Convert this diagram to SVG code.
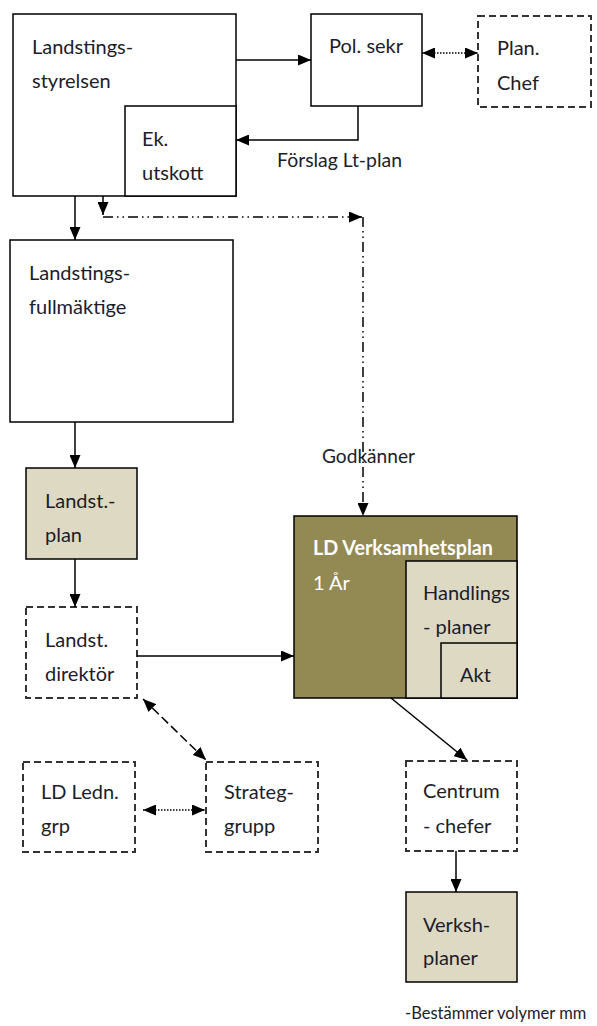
<svg xmlns="http://www.w3.org/2000/svg" width="597" height="1026" viewBox="0 0 597 1026">
<style>
.box{fill:#fff;stroke:#000;stroke-width:1.5}
.tan{fill:#ddd9c3;stroke:#000;stroke-width:1.5}
.olive{fill:#938953;stroke:#000;stroke-width:1.5}
.dash{fill:#fff;stroke:#333;stroke-width:2;stroke-dasharray:7 4}
.t{font-family:Lato,"Open Sans",sans-serif;font-size:20px;fill:#1c1c2a}
.w{fill:#fff}
.b{font-weight:bold}
.c{fill:none;stroke:#000;stroke-width:1.5}
.dot{stroke-dasharray:1.5 1.5}
.dd{stroke-dasharray:9 4}
.dadot{stroke-dasharray:10 4 1.5 4 1.5 4}
</style>
<defs>
<marker id="ah" markerUnits="userSpaceOnUse" markerWidth="13" markerHeight="11" refX="13" refY="5.5" orient="auto-start-reverse">
<path d="M0,0 L13,5.5 L0,11 z" fill="#000"/>
</marker>
</defs>
<g id="styrelsen">
<rect class="box" x="13" y="14" width="223" height="182"/>
<text class="t" x="32" y="54">Landstings-</text>
<text class="t" x="32" y="88">styrelsen</text>
</g>
<g id="ekutskott">
<rect class="box" x="125" y="106" width="111" height="90"/>
<text class="t" x="142" y="146">Ek.</text>
<text class="t" x="142" y="180">utskott</text>
</g>
<g id="polsekr">
<rect class="box" x="311" y="14" width="111" height="92"/>
<text class="t" x="329" y="53">Pol. sekr</text>
</g>
<g id="planchef">
<rect class="dash" x="478" y="16" width="113" height="91"/>
<text class="t" x="497" y="55">Plan.</text>
<text class="t" x="497" y="90">Chef</text>
</g>
<g id="fullmaktige">
<rect class="box" x="10" y="240" width="223" height="182"/>
<text class="t" x="29" y="280">Landstings-</text>
<text class="t" x="29" y="314">fullmäktige</text>
</g>
<g id="landstplan">
<rect class="tan" x="26" y="468" width="111" height="91"/>
<text class="t" x="45" y="508">Landst.-</text>
<text class="t" x="45" y="542">plan</text>
</g>
<g id="direktor">
<rect class="dash" x="26" y="607" width="111" height="91"/>
<text class="t" x="45" y="647">Landst.</text>
<text class="t" x="45" y="681">direktör</text>
</g>
<g id="verksamhetsplan">
<rect class="olive" x="294" y="516" width="223" height="182"/>
<text class="t w b" x="313" y="555" textLength="180" lengthAdjust="spacingAndGlyphs">LD Verksamhetsplan</text>
<text class="t w" x="313" y="590">1 År</text>
</g>
<g id="handlingsplaner">
<rect class="tan" x="406" y="561" width="111" height="137"/>
<text class="t" x="423" y="600">Handlings</text>
<text class="t" x="423" y="634">- planer</text>
</g>
<g id="akt">
<rect class="tan" x="441" y="643" width="76" height="55"/>
<text class="t" x="460" y="682">Akt</text>
</g>
<g id="ledngrp">
<rect class="dash" x="23" y="762" width="112" height="90"/>
<text class="t" x="41" y="799">LD Ledn.</text>
<text class="t" x="41" y="833">grp</text>
</g>
<g id="strateggrupp">
<rect class="dash" x="206" y="762" width="112" height="90"/>
<text class="t" x="224" y="799">Strateg-</text>
<text class="t" x="224" y="833">grupp</text>
</g>
<g id="centrumchefer">
<rect class="dash" x="406" y="761" width="111" height="90"/>
<text class="t" x="423" y="798">Centrum</text>
<text class="t" x="423" y="833">- chefer</text>
</g>
<g id="verkshplaner">
<rect class="tan" x="406" y="892" width="111" height="90"/>
<text class="t" x="423" y="932">Verksh-</text>
<text class="t" x="423" y="965">planer</text>
</g>
<g id="labels">
<text class="t" x="277" y="167" textLength="125" lengthAdjust="spacingAndGlyphs">Förslag Lt-plan</text>
<text class="t" x="322" y="463" textLength="93" lengthAdjust="spacingAndGlyphs">Godkänner</text>
<text class="t" x="405" y="1019" style="font-size:16.5px">-Bestämmer volymer mm</text>
</g>
<g id="connectors">
<line class="c" x1="236" y1="60" x2="311" y2="60" marker-end="url(#ah)"/>
<line class="c dot" x1="422" y1="53" x2="478" y2="53" marker-start="url(#ah)" marker-end="url(#ah)"/>
<polyline class="c" points="358,106 358,140 236,140" marker-end="url(#ah)"/>
<line class="c" x1="75" y1="196" x2="75" y2="240" marker-end="url(#ah)"/>
<line class="c" x1="103" y1="196" x2="103" y2="215" marker-end="url(#ah)"/>
<line class="c dadot" x1="103" y1="217" x2="362" y2="217" marker-end="url(#ah)"/>
<line class="c dadot" x1="363" y1="217" x2="363" y2="516" marker-end="url(#ah)"/>
<line class="c" x1="75" y1="422" x2="75" y2="468" marker-end="url(#ah)"/>
<line class="c" x1="75" y1="559" x2="75" y2="607" marker-end="url(#ah)"/>
<line class="c" x1="137" y1="656" x2="294" y2="656" marker-end="url(#ah)"/>
<line class="c dd" x1="143" y1="699" x2="206" y2="760" marker-start="url(#ah)" marker-end="url(#ah)"/>
<line class="c dot" x1="143" y1="810" x2="205" y2="810" marker-start="url(#ah)" marker-end="url(#ah)"/>
<line class="c" x1="391" y1="698" x2="467" y2="760" marker-end="url(#ah)"/>
<line class="c" x1="456" y1="851" x2="456" y2="892" marker-end="url(#ah)"/>
</g>
</svg>
